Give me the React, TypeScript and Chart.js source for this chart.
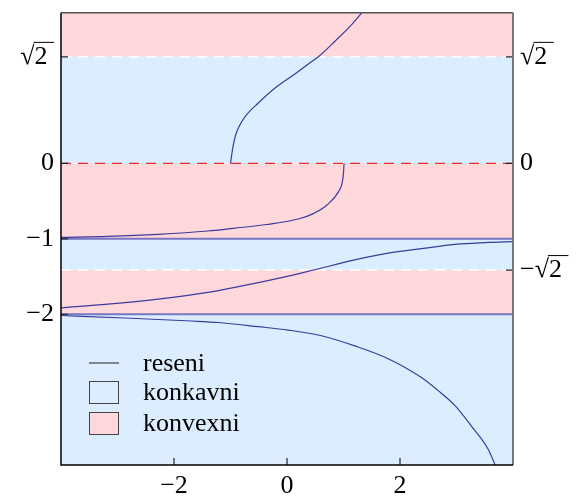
import { useEffect, useRef } from 'react';
import { Chart, registerables } from 'chart.js';
Chart.register(...registerables);

const SQRT2 = Math.SQRT2;
const xRange = [-4, 4];
const yRange = [-4, 2];
const xTickValues = [-2, 0, 2];
const xTickLabels = ['−2', '0', '2'];
const leftTickValues = [SQRT2, 0, -1, -2];
const leftTickLabels = ['√2\u2005', '0', '−1', '−2'];
const rightTickValues = [SQRT2, 0, -SQRT2];
const rightTickLabels = ['√2\u2005', '0', '−√2\u2005'];
const bandEdges = [2, SQRT2, 0, -1, -SQRT2, -2, -4];
const bandKinds = [1, 0, 1, 0, 1, 0]; // 1 = konvexni, 0 = konkavni
const legendLabels = ['reseni', 'konkavni', 'konvexni'];

const curveA = [
  { x: -1.0, y: 0 }, { x: -0.979, y: 0.115 }, { x: -0.95, y: 0.248 }, { x: -0.908, y: 0.381 },
  { x: -0.832, y: 0.514 }, { x: -0.714, y: 0.647 }, { x: -0.507, y: 0.802 }, { x: -0.212, y: 1.0 },
  { x: 0.083, y: 1.157 }, { x: 0.378, y: 1.32 }, { x: 0.566, y: 1.422 }, { x: 0.85, y: 1.622 },
  { x: 1.145, y: 1.843 }, { x: 1.351, y: 2.021 },
];
const curveB = [
  { x: -4.0, y: -0.98 }, { x: -3.17, y: -0.967 }, { x: -2.28, y: -0.94 }, { x: -1.4, y: -0.896 },
  { x: -0.95, y: -0.86 }, { x: -0.36, y: -0.81 }, { x: 0.23, y: -0.73 }, { x: 0.466, y: -0.665 },
  { x: 0.702, y: -0.555 }, { x: 0.909, y: -0.377 }, { x: 0.985, y: -0.222 }, { x: 1.003, y: -0.089 },
  { x: 1.01, y: 0 },
];
const curveD = [
  { x: -4.0, y: -1.915 }, { x: -3.17, y: -1.867 }, { x: -2.28, y: -1.8 }, { x: -1.4, y: -1.71 },
  { x: -0.51, y: -1.58 }, { x: 0.02, y: -1.495 }, { x: 0.49, y: -1.41 }, { x: 1.2, y: -1.28 },
  { x: 1.79, y: -1.19 }, { x: 2.38, y: -1.13 }, { x: 2.97, y: -1.073 }, { x: 3.56, y: -1.047 },
  { x: 4.0, y: -1.037 },
];
const curveE = [
  { x: -4.0, y: -2.017 }, { x: -2.87, y: -2.05 }, { x: -1.69, y: -2.09 }, { x: -1.22, y: -2.11 },
  { x: -0.51, y: -2.165 }, { x: 0.02, y: -2.21 }, { x: 0.61, y: -2.285 }, { x: 1.2, y: -2.42 },
  { x: 1.79, y: -2.59 }, { x: 2.38, y: -2.84 }, { x: 2.67, y: -3.01 }, { x: 2.97, y: -3.21 },
  { x: 3.26, y: -3.48 }, { x: 3.56, y: -3.79 }, { x: 3.69, y: -4.01 },
];
const constSolutions = [-1, -2];
const whiteDashLevels = [SQRT2, -SQRT2];
const redDashLevels = [0];

const PINK = 'rgb(255,216,219)';
const BLUE = 'rgb(220,237,255)';
const CURVE = '#3b3b9b';
const FONT = "'Liberation Serif', 'Times New Roman', serif";
const FS = 26;

const bandsPlugin = {
  id: 'bands',
  beforeDatasetsDraw(chart: any) {
    const { ctx, chartArea } = chart;
    const y = chart.scales.y;
    ctx.save();
    for (let i = 0; i < bandKinds.length; i++) {
      const t = y.getPixelForValue(bandEdges[i]);
      const b = y.getPixelForValue(bandEdges[i + 1]);
      ctx.fillStyle = bandKinds[i] ? PINK : BLUE;
      ctx.fillRect(chartArea.left, t, chartArea.right - chartArea.left, b - t);
    }
    ctx.restore();
  },
};

const framePlugin = {
  id: 'frame',
  afterDatasetsDraw(chart: any) {
    const { ctx, chartArea: a } = chart;
    const x = chart.scales.x, y = chart.scales.y;
    ctx.save();
    ctx.strokeStyle = '#222';
    ctx.lineWidth = 1.2;
    ctx.beginPath();
    xTickValues.forEach((v) => {
      const px = x.getPixelForValue(v);
      ctx.moveTo(px, a.bottom); ctx.lineTo(px, a.bottom - 7);
    });
    leftTickValues.forEach((v) => {
      const py = y.getPixelForValue(v);
      ctx.moveTo(a.left, py); ctx.lineTo(a.left + 7, py);
    });
    rightTickValues.forEach((v) => {
      const py = y.getPixelForValue(v);
      ctx.moveTo(a.right, py); ctx.lineTo(a.right - 7, py);
    });
    ctx.stroke();
    ctx.lineWidth = 1.5;
    ctx.strokeStyle = '#555';
    ctx.beginPath(); ctx.moveTo(a.left, a.top); ctx.lineTo(a.right, a.top); ctx.stroke();
    ctx.strokeStyle = '#777';
    ctx.lineWidth = 2;
    ctx.beginPath(); ctx.moveTo(a.right, a.top); ctx.lineTo(a.right, a.bottom); ctx.stroke();
    ctx.strokeStyle = '#000';
    ctx.lineWidth = 1.5;
    ctx.beginPath(); ctx.moveTo(a.left, a.top); ctx.lineTo(a.left, a.bottom); ctx.lineTo(a.right, a.bottom); ctx.stroke();
    ctx.restore();
  },
};

const overlayPlugin = {
  id: 'overlay',
  afterDraw(chart: any) {
    const { ctx, chartArea: a } = chart;
    const y = chart.scales.y;
    ctx.save();
    ctx.font = `${FS}px ${FONT}`;
    ctx.strokeStyle = '#000';
    ctx.lineWidth = 1;
    const vinculum = (lab: string, x0: number, py: number) => {
      const idx = lab.indexOf('√');
      if (idx < 0) return;
      const xs = x0 + ctx.measureText(lab.slice(0, idx + 1)).width - 1;
      const xe = x0 + ctx.measureText(lab).width;
      ctx.beginPath(); ctx.moveTo(xs, py - 14.5); ctx.lineTo(xe, py - 14.5); ctx.stroke();
    };
    leftTickLabels.forEach((lab, i) => {
      const w = ctx.measureText(lab).width;
      vinculum(lab, a.left - 7 - w, y.getPixelForValue(leftTickValues[i]));
    });
    rightTickLabels.forEach((lab, i) => {
      vinculum(lab, a.right + 7, y.getPixelForValue(rightTickValues[i]));
    });
    // legend
    const lx = 89, bw = 30, tx = 143;
    const rows = [363, 392, 423];
    ctx.textBaseline = 'middle';
    ctx.textAlign = 'left';
    ctx.strokeStyle = '#444';
    ctx.lineWidth = 1.2;
    ctx.beginPath(); ctx.moveTo(lx, rows[0]); ctx.lineTo(lx + bw, rows[0]); ctx.stroke();
    [BLUE, PINK].forEach((c, i) => {
      const cy = rows[i + 1];
      ctx.fillStyle = c;
      ctx.fillRect(lx, cy - 11, bw, 22);
      ctx.strokeStyle = '#444';
      ctx.lineWidth = 1;
      ctx.strokeRect(lx + 0.5, cy - 11 + 0.5, bw - 1, 22);
    });
    ctx.fillStyle = '#000';
    legendLabels.forEach((t, i) => ctx.fillText(t, tx, rows[i] + 1));
    ctx.restore();
  },
};

function lineDs(data: any[], color: string, width: number, order: number, extra: any = {}) {
  return {
    data, borderColor: color, borderWidth: width, pointRadius: 0, fill: false, order,
    cubicInterpolationMode: 'monotone', ...extra,
  };
}

export default function App() {
  const ref = useRef<HTMLCanvasElement>(null);
  useEffect(() => {
    const datasets: any[] = [];
    const flat = { cubicInterpolationMode: 'default', tension: 0 };
    [curveA, curveB, curveD, curveE].forEach((c) => datasets.push(lineDs(c, CURVE, 1.2, 0)));
    constSolutions.forEach((lv) =>
      datasets.push(lineDs([{ x: xRange[0], y: lv }, { x: xRange[1], y: lv }], 'rgba(90,90,180,0.8)', 2, 1, flat))
    );
    whiteDashLevels.forEach((lv) =>
      datasets.push(lineDs([{ x: xRange[0], y: lv }, { x: xRange[1], y: lv }], 'rgba(255,255,255,0.95)', 1.5, 2, { ...flat, borderDash: [10, 7] }))
    );
    redDashLevels.forEach((lv) =>
      datasets.push(lineDs([{ x: xRange[0], y: lv }, { x: xRange[1], y: lv }], 'rgb(235,45,45)', 1.3, 2, { ...flat, borderDash: [10, 7] }))
    );

    const tickFont = { family: FONT, size: FS };
    const noPadY = (w: number) => (s: any) => { s.width = w; s.paddingTop = 0; s.paddingBottom = 0; };
    const chart = new Chart(ref.current!, {
      type: 'line',
      data: { datasets },
      plugins: [bandsPlugin, framePlugin, overlayPlugin],
      options: {
        animation: false,
        responsive: false,
        devicePixelRatio: 1,
        layout: { padding: { top: 12.7, left: 0, right: 0, bottom: 0 } },
        plugins: { legend: { display: false }, tooltip: { enabled: false } },
        scales: {
          x: {
            type: 'linear', min: xRange[0], max: xRange[1],
            grid: { display: false, drawTicks: false },
            border: { display: false },
            afterBuildTicks: (s: any) => { s.ticks = xTickValues.map((v) => ({ value: v })); },
            afterFit: (s: any) => { s.height = 32; s.paddingLeft = 0; s.paddingRight = 0; },
            ticks: {
              autoSkip: false, maxRotation: 0, padding: 6, color: '#000', font: tickFont,
              callback: (v: any) => xTickLabels[xTickValues.indexOf(v)] ?? '',
            },
          },
          y: {
            type: 'linear', position: 'left', min: yRange[0], max: yRange[1],
            grid: { display: false, drawTicks: false },
            border: { display: false },
            afterBuildTicks: (s: any) => { s.ticks = leftTickValues.map((v) => ({ value: v })); },
            afterFit: noPadY(61),
            ticks: {
              autoSkip: false, padding: 7, color: '#000', font: tickFont,
              callback: (v: any) => leftTickLabels[leftTickValues.indexOf(v)] ?? '',
            },
          },
          y2: {
            type: 'linear', position: 'right', min: yRange[0], max: yRange[1],
            grid: { display: false, drawTicks: false },
            border: { display: false },
            afterBuildTicks: (s: any) => { s.ticks = rightTickValues.map((v) => ({ value: v })); },
            afterFit: noPadY(65),
            ticks: {
              autoSkip: false, padding: 7, color: '#000', font: tickFont,
              callback: (v: any) => rightTickLabels[rightTickValues.indexOf(v)] ?? '',
            },
          },
        },
      } as any,
    });
    return () => chart.destroy();
  }, []);
  return (
    <canvas
      ref={ref}
      width={578}
      height={497}
      style={{ position: 'fixed', left: 0, top: 0, width: 578, height: 497, display: 'block', background: '#fff' }}
    />
  );
}
